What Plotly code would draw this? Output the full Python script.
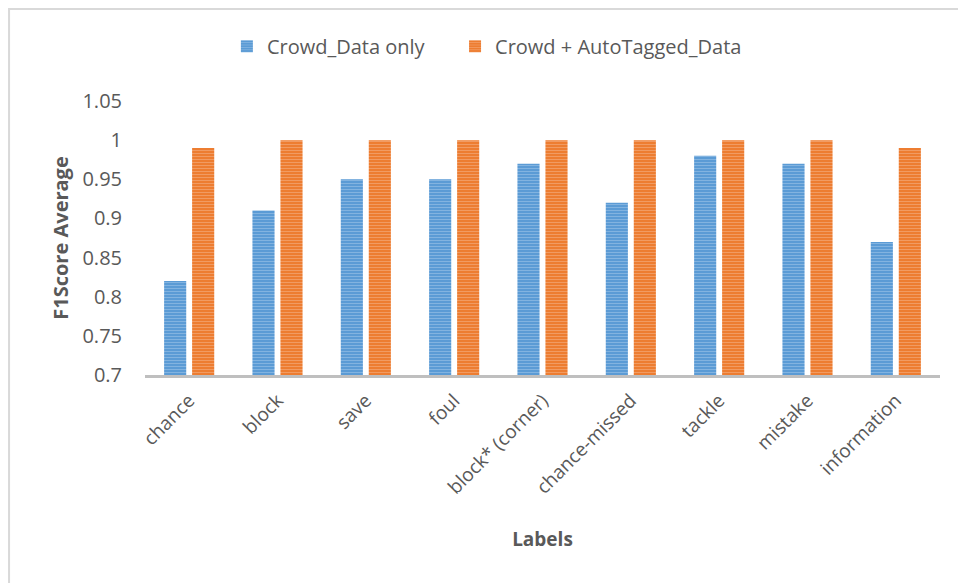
import plotly.graph_objects as go

# F1 score per label, with and without the auto-tagged data
labels = ["chance", "block", "save", "foul", "block* (corner)",
          "chance-missed", "tackle", "mistake", "information"]
crowd_only = [0.82, 0.91, 0.95, 0.95, 0.97, 0.92, 0.98, 0.97, 0.87]
crowd_auto = [0.99, 1.00, 1.00, 1.00, 1.00, 1.00, 1.00, 1.00, 0.99]

y_ticks = [0.7, 0.75, 0.8, 0.85, 0.9, 0.95, 1.0, 1.05]
y_tick_text = ["0.7", "0.75", "0.8", "0.85", "0.9", "0.95", "1", "1.05"]

BLUE = "#5b9bd5"
BLUE_LIGHT = "#a9ccec"
ORANGE = "#ed7d31"
ORANGE_LIGHT = "#f6b993"
TEXT = "#595959"
FONT = "'Open Sans', Lato, sans-serif"


def striped(color, light):
    return dict(color=color,
                line=dict(width=0),
                pattern=dict(shape="-", bgcolor=color, fgcolor=light,
                             size=3, solidity=0.35))


def legend_box(x):
    return dict(orientation="h", x=x, xanchor="left", y=1.2,
                yanchor="middle", font=dict(size=20, color=TEXT),
                itemwidth=30, bgcolor="rgba(0,0,0,0)")


fig = go.Figure()
fig.add_trace(go.Bar(x=labels, y=crowd_only, name="Crowd_Data only",
                     marker=striped(BLUE, BLUE_LIGHT), legend="legend"))
fig.add_trace(go.Bar(x=labels, y=crowd_auto, name="Crowd + AutoTagged_Data",
                     marker=striped(ORANGE, ORANGE_LIGHT), legend="legend2"))

fig.update_layout(
    width=958, height=583,
    margin=dict(l=145, r=18, t=101, b=208),
    paper_bgcolor="white", plot_bgcolor="white",
    font=dict(family=FONT, size=20, color=TEXT),
    barmode="group", bargap=0.366, bargroupgap=0.21,
    showlegend=True,
    legend=legend_box(0.103),
    legend2=legend_box(0.390),
    shapes=[dict(type="rect", xref="paper", yref="paper",
                 x0=-0.171, x1=1.1, y0=-1.0, y1=1.336,
                 line=dict(color="#d9d9d9", width=2),
                 fillcolor="rgba(0,0,0,0)", layer="below")],
)

fig.update_xaxes(
    type="category",
    showline=True, linecolor="#bfbfbf", linewidth=3,
    showgrid=False, ticks="", tickangle=-45,
    tickfont=dict(size=19, color=TEXT),
    ticklabelstandoff=4,
    title=dict(text="<b>Labels</b>", font=dict(size=19, color=TEXT),
               standoff=35),
)
fig.update_yaxes(
    range=[0.7, 1.05],
    tickvals=y_ticks, ticktext=y_tick_text,
    showline=False, showgrid=False, zeroline=False, ticks="",
    tickfont=dict(size=20, color=TEXT),
    ticklabelstandoff=22,
    title=dict(text="<b>F1Score Average</b>", font=dict(size=20, color=TEXT),
               standoff=8),
)

fig.write_html("out.html")
